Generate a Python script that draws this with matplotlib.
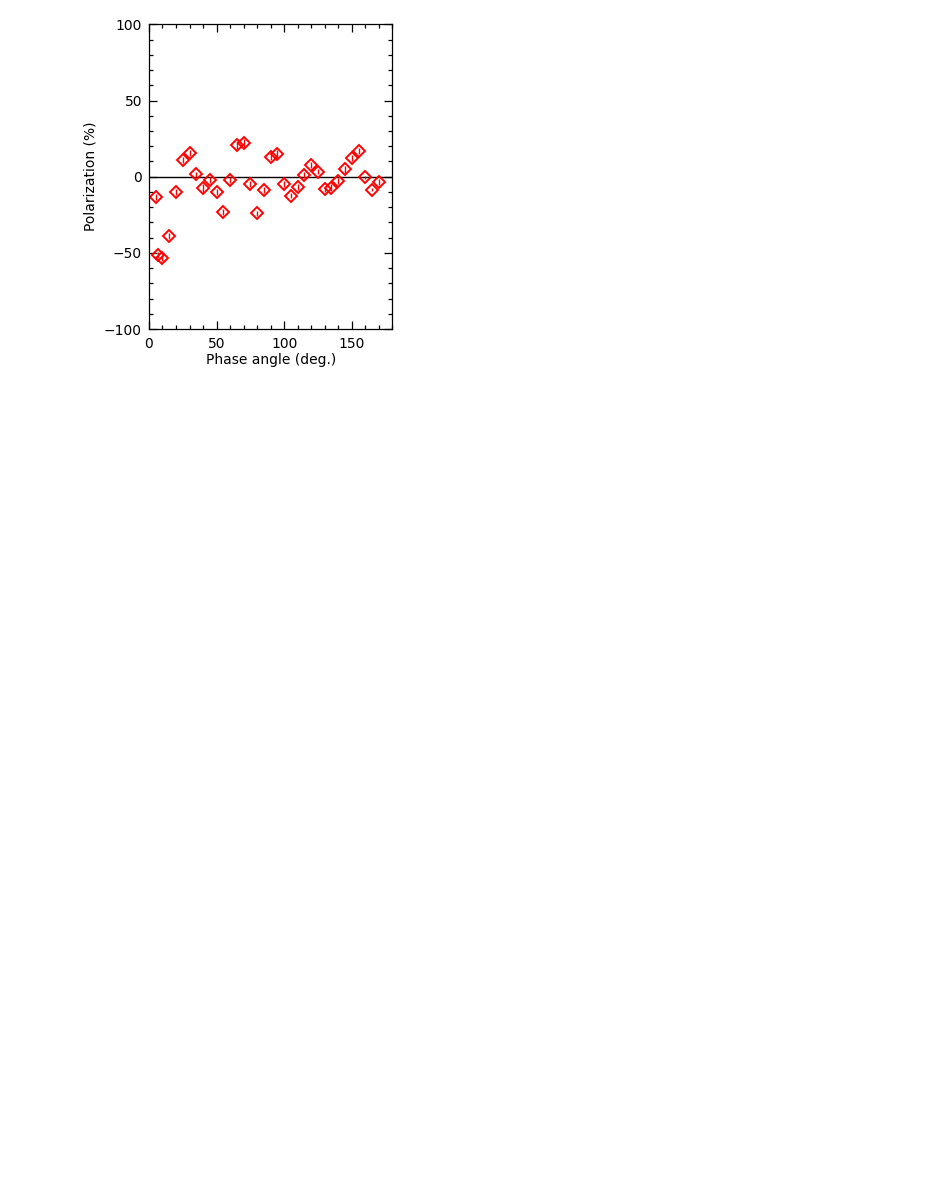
import numpy as np
import matplotlib
matplotlib.use("Agg")
import matplotlib.pyplot as plt
from matplotlib.ticker import MultipleLocator

# phase angle (deg) and polarization (%)
phase = [5, 7, 10, 15, 20, 25, 30, 35, 40, 45, 50, 55, 60, 65, 70, 75, 80, 85,
         90, 95, 100, 105, 110, 115, 120, 125, 130, 135, 140, 145, 150, 155,
         160, 165, 170]
pol = [-13.6, -51.4, -53.2, -38.7, -9.8, 10.7, 15.8, 1.5, -7.4, -2.4, -10.1,
       -23.2, -2.0, 21.0, 22.3, -5.0, -24.1, -9.0, 12.7, 14.9, -4.8, -12.5,
       -6.8, 0.9, 7.9, 3.3, -8.3, -7.2, -3.1, 4.8, 12.3, 16.8, -0.4, -8.5,
       -3.5]
pol_err = [2.0, 2.0, 2.0, 2.0, 2.0, 2.0, 2.0, 1.5, 2.5, 2.0, 2.0, 2.0, 2.0,
           2.5, 2.5, 2.0, 1.5, 2.0, 2.0, 2.5, 2.0, 1.5, 2.0, 2.0, 2.0, 1.5,
           1.5, 2.5, 2.0, 2.5, 2.0, 2.0, 1.0, 1.0, 2.0]

my_dpi = 100
fig = plt.figure(figsize=(927/my_dpi, 1200/my_dpi), dpi=my_dpi)
ax = fig.add_axes([0.1607, 0.7258, 0.2625, 0.2539])

ax.axhline(0, color='black', linewidth=1.0)
ax.errorbar(phase, pol, yerr=pol_err, fmt='D', color='red', ecolor='red',
            elinewidth=1.0, capsize=0, markersize=6.3, markerfacecolor='none',
            markeredgecolor='red', markeredgewidth=1.4)

ax.set_xlim(0, 180)
ax.set_ylim(-100, 100)
ax.xaxis.set_major_locator(MultipleLocator(50))
ax.xaxis.set_minor_locator(MultipleLocator(10))
ax.yaxis.set_major_locator(MultipleLocator(50))
ax.yaxis.set_minor_locator(MultipleLocator(10))
ax.tick_params(which='both', direction='in', top=True, right=True,
               labelsize=10, width=0.9)
ax.tick_params(axis='x', which='major', pad=6)
ax.tick_params(axis='y', which='major', pad=5)
ax.tick_params(which='major', length=6)
ax.tick_params(which='minor', length=3)
for s in ax.spines.values():
    s.set_linewidth(0.9)

ax.set_xlabel("Phase angle (deg.)", fontsize=10, labelpad=1)
ax.set_ylabel("Polarization (%)", fontsize=10, labelpad=5)

plt.savefig("out.png", dpi=my_dpi)
